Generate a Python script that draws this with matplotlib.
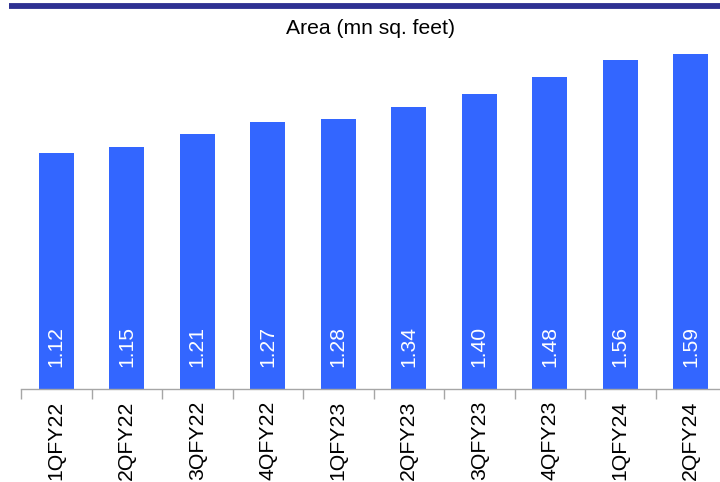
import matplotlib
matplotlib.use("Agg")
import matplotlib.pyplot as plt
from matplotlib.lines import Line2D

quarters = ["1QFY22", "2QFY22", "3QFY22", "4QFY22", "1QFY23",
            "2QFY23", "3QFY23", "4QFY23", "1QFY24", "2QFY24"]
area = [1.12, 1.15, 1.21, 1.27, 1.28, 1.34, 1.40, 1.48, 1.56, 1.59]
title = "Area (mn sq. feet)"

plt.rcParams["font.family"] = ["Liberation Sans", "DejaVu Sans"]

W, H = 720, 482
fig = plt.figure(figsize=(W / 100, H / 100), dpi=100)

# axes in pixel terms: baseline at y=389, left edge at x=21, slot width ~70.5 px
left, right = 21, 726
base, top = 389, 31
ax = fig.add_axes([left / W, (H - base) / H, (right - left) / W, (base - top) / H])

x = list(range(len(quarters)))
bar_color = "#3366FF"
ax.bar(x, area, width=0.5, color=bar_color, zorder=2)

for xi, v in zip(x, area):
    ax.annotate(f"{v:.2f}", xy=(xi, 0), xytext=(0, 22), textcoords="offset pixels",
                rotation=90, ha="center", va="bottom", color="white", fontsize=15.2)

ax.set_xlim(-0.5, len(quarters) - 0.5)
ax.set_ylim(0, 1.7)

for s in ["top", "right", "left"]:
    ax.spines[s].set_visible(False)
ax.spines["bottom"].set_color("#A6A6A6")
ax.spines["bottom"].set_linewidth(1.0)

ax.set_yticks([])
# tick marks between categories, labels centred under bars
ax.set_xticks([i - 0.5 for i in x], minor=False)
ax.set_xticklabels([])
ax.tick_params(axis="x", which="major", length=7, color="#A6A6A6", width=1.0)
ax.set_xticks(x, minor=True)
ax.set_xticklabels(quarters, minor=True, rotation=90, fontsize=15.3, color="black")
ax.tick_params(axis="x", which="minor", length=0, pad=8.5)

fig.text(371 / W, 1 - 28 / H, title, ha="center", va="center", fontsize=15.2, color="black")

# header rule
fig.add_artist(Line2D([9 / W, 1.0], [1 - 6 / H, 1 - 6 / H], transform=fig.transFigure,
                      color="#2E3192", linewidth=4.2, solid_capstyle="butt"))

fig.savefig("out.png", dpi=100)
